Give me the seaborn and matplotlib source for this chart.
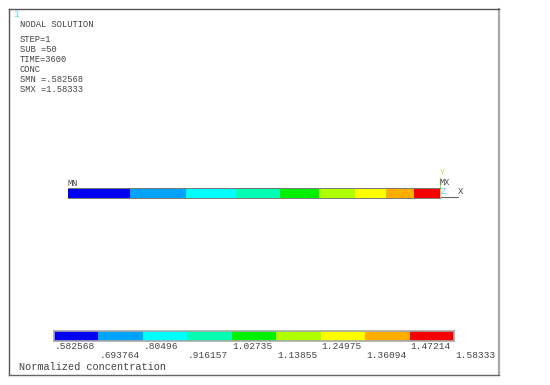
import matplotlib
matplotlib.use('Agg')
import numpy as np
import matplotlib.pyplot as plt
import seaborn as sns
from matplotlib.colors import ListedColormap

# contour levels from the ANSYS legend
level_labels = ['.582568', '.693764', '.80496', '.916157', '1.02735',
                '1.13855', '1.24975', '1.36094', '1.47214', '1.58333']
level_values = [0.582568, 0.693764, 0.80496, 0.916157, 1.02735,
                1.13855, 1.24975, 1.36094, 1.47214, 1.58333]
band_colors = ['#0000f0', '#00a2fa', '#00ffff', '#00ffb2', '#00f000',
               '#b0ff00', '#ffff00', '#ffae00', '#f50000']

# band edges along the rod (normalised length)
rod_edges = [0.0, 0.167, 0.317, 0.452, 0.570, 0.675, 0.772, 0.855, 0.930, 1.0]

step_lines = ['STEP=1', 'SUB =50', 'TIME=3600', 'CONC', 'SMN =.582568', 'SMX =1.58333']

W, H = 550, 385
TEXT = '#444444'
MONO = 'Liberation Mono'

sns.set_style('white')
fig = plt.figure(figsize=(W / 100, H / 100), dpi=100, facecolor='white')


def px_axes(x0, y0, x1, y1):
    # axes placed by pixel box, y measured from the top
    return fig.add_axes([x0 / W, 1 - y1 / H, (x1 - x0) / W, (y1 - y0) / H])


# outer window, data coords are image pixels
frame = px_axes(9, 9, 499, 375)
frame.set_xlim(9, 499)
frame.set_ylim(375, 9)
frame.set_xticks([])
frame.set_yticks([])
for side, col, lw in [('left', '#555555', 1.0), ('top', '#555555', 1.0),
                      ('right', '#a8a8a8', 1.6), ('bottom', '#666666', 1.0)]:
    frame.spines[side].set_visible(True)
    frame.spines[side].set_color(col)
    frame.spines[side].set_linewidth(lw)

frame.text(13, 14, '1', color='#66e6e6', fontsize=7, family=MONO, va='center')
frame.text(20, 24, 'NODAL SOLUTION', color=TEXT, fontsize=6.3, family=MONO, va='center')
for i, line in enumerate(step_lines):
    frame.text(20, 39 + i * 10, line, color=TEXT, fontsize=6.3, family=MONO, va='center')
frame.text(19, 366.5, 'Normalized concentration', color=TEXT, fontsize=7.4, family=MONO, va='center')

# rod contour
rod = px_axes(68, 187.5, 440, 197.5)
widths = np.diff(rod_edges)
rod.barh([0], widths, left=rod_edges[:-1], height=1, color=band_colors, linewidth=0)
rod.set_xlim(0, 1)
rod.set_ylim(-0.5, 0.5)
rod.set_xticks([])
rod.set_yticks([])
for side, s in rod.spines.items():
    s.set_visible(side in ('top', 'bottom'))
    s.set_color('#777777')
    s.set_linewidth(0.7)

frame.text(68, 183, 'MN', color=TEXT, fontsize=6.2, family=MONO, va='center')
frame.text(440, 182.5, 'MX', color=TEXT, fontsize=6.2, family=MONO, va='center')

# global triad at the rod end
frame.plot([440, 458], [197, 197], color='#666666', lw=0.8)
frame.plot([440, 440], [178, 197], color='#b5d96a', lw=1.0)
frame.text(442, 172.5, 'Y', color='#c8d860', fontsize=6.2, family=MONO, ha='center', va='center')
frame.text(443, 191, 'Z', color='#60c8e8', fontsize=6.2, family=MONO, ha='center', va='center')
frame.text(461, 191, 'X', color=TEXT, fontsize=6.5, family=MONO, ha='center', va='center')

# legend bar, one heatmap cell per band
legend = px_axes(54, 331, 454, 341)
mids = (np.array(level_values[:-1]) + np.array(level_values[1:])) / 2
sns.heatmap(mids.reshape(1, -1), ax=legend, cmap=ListedColormap(band_colors), cbar=False,
            xticklabels=False, yticklabels=False, linewidths=0)
for s in legend.spines.values():
    s.set_visible(True)
    s.set_color('#a8a8a8')
    s.set_linewidth(1.2)

for i, lab in enumerate(level_labels):
    row_y = 1.58 if i % 2 == 0 else 2.42
    legend.text(i + 0.02, row_y, lab, color=TEXT, fontsize=6.8, family=MONO, ha='left', va='center')

fig.savefig('out.png', dpi=100, facecolor='white')
